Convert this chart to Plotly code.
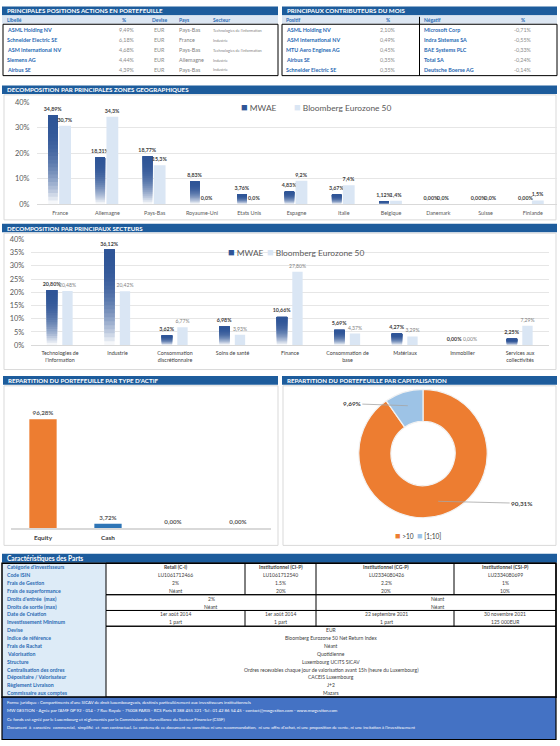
import math
import plotly.graph_objects as go

W, H = 560, 746
FONT = "Lato"


def X(px):
    return px / W


def Y(py):
    return 1 - py / H


def pct(v, d=2):
    return f"{v:.{d}f}".replace(".", ",") + "%"


# ---------------- DATA ----------------
top_names = ["ASML Holding NV", "Schneider Electric SE", "ASM International NV", "Siemens AG", "Airbus SE"]
top_pct = [9.49, 6.18, 4.68, 4.44, 4.39]
top_devise = ["EUR", "EUR", "EUR", "EUR", "EUR"]
top_pays = ["Pays-Bas", "France", "Pays-Bas", "Allemagne", "Pays-Bas"]
top_secteur = ["Technologies de l'information", "Industrie", "Technologies de l'information", "Industrie", "Industrie"]

pos_names = ["ASML Holding NV", "ASM International NV", "MTU Aero Engines AG", "Airbus SE", "Schneider Electric SE"]
pos_pct = [2.10, 0.49, 0.45, 0.35, 0.35]
neg_names = ["Microsoft Corp", "Indra Sistemas SA", "BAE Systems PLC", "Total SA", "Deutsche Boerse AG"]
neg_pct = [-0.71, -0.55, -0.33, -0.24, -0.14]

geo_cats = ["France", "Allemagne", "Pays-Bas", "Royaume-Uni", "Etats Unis", "Espagne", "Italie",
            "Belgique", "Danemark", "Suisse", "Finlande"]
geo_mwae = [34.89, 18.31, 18.77, 8.83, 3.76, 4.83, 3.67, 1.12, 0.00, 0.00, 0.00]
geo_bench = [30.7, 34.3, 15.3, 0.0, 0.0, 9.2, 7.4, 1.4, 0.0, 0.0, 1.5]

sec_cats = ["Technologies de<br>l'information", "Industrie", "Consommation<br>discrétionnaire", "Soins de santé",
            "Finance", "Consommation de<br>base", "Matériaux", "Immobilier", "Services aux<br>collectivités"]
sec_mwae = [20.80, 36.12, 3.62, 6.98, 10.66, 5.69, 4.27, 0.00, 2.25]
sec_bench = [20.48, 20.42, 6.77, 3.93, 27.80, 4.37, 3.29, 0.00, 7.29]

series_names = ["MWAE", "Bloomberg Eurozone 50"]

asset_cats = ["Equity", "Cash", "", ""]
asset_vals = [96.28, 3.72, 0.00, 0.00]

cap_labels = [">10", "[1;10]"]
cap_vals = [90.31, 9.69]

char_labels = ["Catégorie d'investisseurs", "Code ISIN", "Frais de Gestion", "Frais de superformance",
               "Droits d'entrée  (max)", "Droits de sortie (max)", "Date de Création", "Investissement Minimum",
               "Devise", "Indice de référence", "Frais de Rachat", "Valorisation", "Structure",
               "Centralisation des ordres", "Dépositaire / Valorisateur", "Règlement Livraison",
               "Commissaire aux comptes"]
share_classes = ["Retail (C-I)", "Institutionnel (CI-P)", "Institutionnel (CG-P)", "Institutionnel (CSI-P)"]
isin = ["LU1061712466", "LU1061712540", "LU2334080426", "LU2334080699"]
frais_gestion = ["2%", "1.5%", "2.2%", "1%"]
frais_perf = ["Néant", "20%", "20%", "10%"]
droits_entree = ["2%", "Néant"]
droits_sortie = ["Néant", "Néant"]
date_creation = ["1er août 2014", "1er août 2014", "22 septembre 2021", "30 novembre 2021"]
invest_min = ["1 part", "1 part", "1 part", "125 000EUR"]
common_values = ["EUR", "Bloomberg Eurozone 50 Net Return Index", "Néant", "Quotidienne",
                 "Luxembourg UCITS SICAV",
                 "Ordres recevables chaque jour de valorisation avant 15h (heure du Luxembourg)",
                 "CACEIS Luxembourg", "J+2", "Mazars"]

footer_lines = [
    "Forme juridique : Compartiments d'une SICAV de droit luxembourgeois, destinés particulièrement aux investisseurs institutionnels",
    "MW GESTION - Agrée par l'AMF GP 92 - 014 - 7 Rue Royale - 75008 PARIS - RCS Paris B 388 455 321 -Tel : 01 42 86 54 45 - contact@mwgestion.com - www.mwgestion.com",
    "Ce fonds est agréé par le Luxembourg et réglementés par la Commission de Surveillance du Secteur Financier (CSSF)",
    "Document  à  caractère  commercial,  simplifié  et  non contractuel. Le contenu de ce document ne constitue ni une recommandation,  ni une offre d'achat, ni une proposition de vente, ni une incitation à l'investissement",
]

# ---------------- STYLE ----------------
HDR = "#1d5c9c"
DARK = (47, 85, 151)
DARK_HEX = "#2f5597"
LIGHT = "#dae6f4"
GRAY = "#595959"
BLUE_TXT = "#2a6ab3"
ORANGE = "#ed7d31"
CASH = "#2e75b6"
CAP_LIGHT = "#9dc3e6"

shapes = []
annotations = []


def rect(x0, y0, x1, y1, fill=None, line=None, lw=1, layer="below"):
    shapes.append(dict(type="rect", xref="paper", yref="paper", x0=X(x0), x1=X(x1), y0=Y(y1), y1=Y(y0),
                       fillcolor=fill or "rgba(0,0,0,0)",
                       line=dict(color=line or "rgba(0,0,0,0)", width=lw if line else 0), layer=layer))


def vline(x, y0, y1, color="black", lw=1):
    shapes.append(dict(type="line", xref="paper", yref="paper", x0=X(x), x1=X(x), y0=Y(y0), y1=Y(y1),
                       line=dict(color=color, width=lw)))


def txt(x, y, s, size=5, color="#404040", bold=False, xanchor="left"):
    annotations.append(dict(x=X(x), y=Y(y), xref="paper", yref="paper", text=(f"<b>{s}</b>" if bold else s),
                            showarrow=False, xanchor=xanchor, yanchor="middle",
                            font=dict(size=size, color=color, family=FONT)))


def header(x0, x1, y0, y1, title, size=6.2):
    rect(x0, y0, x1, y1, fill=HDR)
    txt(x0 + 3, (y0 + y1) / 2, title, size=size, color="white", bold=True)


fig = go.Figure()

# ---------------- TOP TABLES ----------------
header(2, 278, 2.5, 11.5, "PRINCIPALES POSITIONS ACTIONS EN PORTEFEUILLE")
header(282, 557, 2.5, 11.5, "PRINCIPAUX CONTRIBUTEURS DU MOIS")
rect(2, 12, 278, 20, fill="#dce6f2")
rect(282, 12, 557, 20, fill="#dce6f2")
rect(3, 20.5, 278, 72.5, line="black", lw=1)
rect(282, 20.5, 557, 72.5, line="black", lw=1)
vline(419.5, 13, 72.5)

hy = 16
txt(5, hy, "Libellé", 5, BLUE_TXT, True)
txt(124, hy, "%", 5, BLUE_TXT, True, "center")
txt(159, hy, "Devise", 5, BLUE_TXT, True, "center")
txt(177, hy, "Pays", 5, BLUE_TXT, True)
txt(211, hy, "Secteur", 5, BLUE_TXT, True)
txt(284, hy, "Positif", 5, BLUE_TXT, True)
txt(388, hy, "%", 5, BLUE_TXT, True, "center")
txt(422, hy, "Négatif", 5, BLUE_TXT, True)
txt(523, hy, "%", 5, BLUE_TXT, True, "center")

for i in range(5):
    yy = 26.7 + 10 * i
    txt(5, yy, top_names[i], 5.4, BLUE_TXT, True)
    txt(127, yy, pct(top_pct[i]), 5.4, "#8c8c8c", False, "center")
    txt(159, yy, top_devise[i], 5.4, "#8c8c8c", False, "center")
    txt(177, yy, top_pays[i], 5.4, "#7f7f7f")
    txt(211, yy, top_secteur[i], 3.8, "#7f7f7f")
    txt(284, yy, pos_names[i], 5.4, BLUE_TXT, True)
    txt(388, yy, pct(pos_pct[i]), 5.4, "#8c8c8c", False, "center")
    txt(422, yy, neg_names[i], 5.4, BLUE_TXT, True)
    txt(523, yy, pct(neg_pct[i]), 5.4, "#8c8c8c", False, "center")

# ---------------- SECTION FRAMES ----------------
header(2, 557, 82.5, 91, "DECOMPOSITION PAR PRINCIPALES ZONES GEOGRAPHIQUES")
rect(4, 92, 556, 218.5, line="#d9d9d9", lw=1)
header(2, 557, 222.5, 231, "DECOMPOSITION PAR PRINCIPAUX SECTEURS")
rect(4, 232, 556, 370, line="#d9d9d9", lw=1)
header(3, 278, 376.5, 385.5, "REPARTITION DU PORTEFEUILLE PAR TYPE D'ACTIF")
rect(4, 386.5, 278, 548, line="#d9d9d9", lw=1)
header(282, 557, 376.5, 385.5, "REPARTITION DU PORTEFEUILLE PAR CAPITALISATION")
rect(283, 386.5, 556, 548, line="#d9d9d9", lw=1)


# ---------------- GRADIENT BARS ----------------
def mix(c, f):
    r, g, b = (int(round(ch + (255 - ch) * f)) for ch in c)
    return f"rgb({r},{g},{b})"


def gradient_bars(cats, vals, xa, ya, offset, width, tsize, N=24):
    # each layer runs from its start height up to the bar's value, darker layers drawn on top
    for k in range(N):
        h = (k + 0.5) / N
        f = (1 - h) ** 2.4
        top = k == N - 1
        fig.add_trace(go.Bar(
            x=cats, y=[v * (N - k) / N for v in vals], base=[v * k / N for v in vals],
            offset=offset, width=width, xaxis=xa, yaxis=ya,
            marker=dict(color=mix(DARK, f), line=dict(width=0)),
            name=series_names[0], showlegend=False, hoverinfo="skip",
            text=[pct(v) for v in vals] if top else None,
            textposition="outside" if top else "none",
            textfont=dict(size=tsize, color="#404040", family=FONT, weight="bold"),
            constraintext="none", cliponaxis=False,
        ))


def legend_entry(name, color, legend_id, xa, ya, size=11):
    # legend-only entry: the coloured square is part of the label text
    fig.add_trace(go.Scatter(
        x=[None], y=[None], mode="markers", xaxis=xa, yaxis=ya,
        marker=dict(color="rgba(0,0,0,0)", size=1),
        name=f'<span style="color:{color};font-size:{size}px">■</span> {name}',
        legend=legend_id, showlegend=True, hoverinfo="skip"))


# Geo chart
gradient_bars(geo_cats, geo_mwae, "x", "y", -0.25, 0.2, 5.3)
fig.add_trace(go.Bar(
    x=geo_cats, y=geo_bench, offset=-0.02, width=0.25, xaxis="x", yaxis="y",
    marker=dict(color=LIGHT, line=dict(width=0)), name=series_names[1], showlegend=False,
    text=[pct(v, 1) for v in geo_bench], textposition="outside", constraintext="none", cliponaxis=False,
    textfont=dict(size=5.3, color="#404040", family=FONT, weight="bold"), hoverinfo="skip"))
legend_entry(series_names[0], DARK_HEX, "legend", "x", "y")
legend_entry(series_names[1], LIGHT, "legend4", "x", "y")

# Sector chart
gradient_bars(sec_cats, sec_mwae, "x2", "y2", -0.23, 0.18, 5.3)
fig.add_trace(go.Bar(
    x=sec_cats, y=sec_bench, offset=0.04, width=0.18, xaxis="x2", yaxis="y2",
    marker=dict(color=LIGHT, line=dict(width=0)), name=series_names[1], showlegend=False,
    text=[pct(v) for v in sec_bench], textposition="outside", constraintext="none", cliponaxis=False,
    textfont=dict(size=5.1, color="#7f7f7f", family=FONT), hoverinfo="skip"))
legend_entry(series_names[0], DARK_HEX, "legend2", "x2", "y2")
legend_entry(series_names[1], LIGHT, "legend5", "x2", "y2")

# Asset type chart
fig.add_trace(go.Bar(
    x=list(range(len(asset_vals))), y=asset_vals, width=0.42, xaxis="x3", yaxis="y3",
    marker=dict(color=[ORANGE, CASH, CASH, CASH], line=dict(width=0)),
    text=[pct(v) for v in asset_vals], textposition="outside", constraintext="none", cliponaxis=False,
    textfont=dict(size=6.2, color="#595959", family=FONT, weight="bold"), showlegend=False, hoverinfo="skip"))

# Capitalisation donut
CX, CY, R_OUT = 423, 455, 65
fig.add_trace(go.Pie(
    labels=cap_labels, values=cap_vals, hole=0.5, sort=False, direction="clockwise", rotation=0,
    marker=dict(colors=[ORANGE, CAP_LIGHT], line=dict(color="#f2f2f2", width=1.2)),
    textinfo="none", showlegend=False, hoverinfo="skip",
    domain=dict(x=[X(CX - R_OUT), X(CX + R_OUT)], y=[Y(CY + R_OUT), Y(CY - R_OUT)])))
legend_entry(cap_labels[0], ORANGE, "legend3", "x3", "y3", size=9)
legend_entry(cap_labels[1], CAP_LIGHT, "legend6", "x3", "y3", size=9)

total = sum(cap_vals)
start = 0.0
label_offsets = [(84, 2), (-56, -2)]
for v, (ax, ay) in zip(cap_vals, label_offsets):
    mid = start + 360 * v / total / 2
    start += 360 * v / total
    r = R_OUT * 0.78
    px = CX + r * math.sin(math.radians(mid))
    py = CY - r * math.cos(math.radians(mid))
    annotations.append(dict(x=X(px), y=Y(py), xref="paper", yref="paper", text=f"<b>{pct(v)}</b>",
                            showarrow=True, arrowhead=0, arrowwidth=0.8, arrowcolor="#a6a6a6",
                            ax=ax, ay=ay, font=dict(size=6.4, color="#404040", family=FONT)))

# ---------------- BOTTOM TABLE ----------------
header(2, 557, 556.5, 565.5, "Caractéristiques des Parts", size=6.6)
ROW0, PITCH = 566, 7.98
rect(2, ROW0, 106, ROW0 + PITCH * 17, fill="#ddebf7")
cols4 = [175.5, 280.5, 386, 505]
cols2 = [211, 438]
blocks = [(0, 4), (4, 6), (6, 8), (8, 17)]
for b0, b1 in blocks:
    rect(106, ROW0 + PITCH * b0, 556, ROW0 + PITCH * b1, line="black", lw=1, layer="above")
for xv in (245, 316, 454):
    vline(xv, ROW0, ROW0 + PITCH * 4)
    vline(xv, ROW0 + PITCH * 6, ROW0 + PITCH * 8)
vline(316, ROW0 + PITCH * 4, ROW0 + PITCH * 6)
rect(2, ROW0, 556, ROW0 + PITCH * 17, line="black", lw=1.5, layer="above")

four_rows = {0: share_classes, 1: isin, 2: frais_gestion, 3: frais_perf, 6: date_creation, 7: invest_min}
two_rows = {4: droits_entree, 5: droits_sortie}
for i, lab in enumerate(char_labels):
    yy = ROW0 + PITCH * (i + 0.5)
    txt(5, yy, lab, 5.2, BLUE_TXT, True)
    if i in four_rows:
        for cx, s in zip(cols4, four_rows[i]):
            txt(cx, yy, s, 5.0, "#404040", i == 0, "center")
    elif i in two_rows:
        for cx, s in zip(cols2, two_rows[i]):
            txt(cx, yy, s, 5.0, "#404040", False, "center")
    else:
        txt(331, yy, common_values[i - 8], 5.0, "#404040", False, "center")

# Footer
FY0 = ROW0 + PITCH * 17
rect(2, FY0, 556, 744.5, fill="#4472c4", line="black", lw=1.2, layer="above")
for k, line in enumerate(footer_lines):
    txt(5, 706.8 + 8.5 * k, line, 4.3, "white")


# ---------------- LAYOUT ----------------
def leg(x_glyph, y_mid, size):
    return dict(orientation="h", x=X(x_glyph - 40), y=Y(y_mid), xanchor="left", yanchor="middle",
                font=dict(size=size, color=GRAY, family=FONT), bgcolor="rgba(0,0,0,0)",
                itemwidth=30, borderwidth=0)


axis_font = dict(size=7.4, color=GRAY, family=FONT)
fig.update_layout(
    width=W, height=H, margin=dict(l=0, r=0, t=0, b=0),
    paper_bgcolor="white", plot_bgcolor="rgba(0,0,0,0)",
    barmode="overlay", font=dict(family=FONT, color=GRAY),
    shapes=shapes, annotations=annotations,
    xaxis=dict(domain=[X(36.5), X(556.5)], anchor="y", type="category", showgrid=False,
               showline=True, linecolor="#d9d9d9", linewidth=1, ticks="", ticklabelstandoff=3,
               tickfont=dict(size=5.4, color=GRAY, family=FONT), fixedrange=True),
    yaxis=dict(domain=[Y(202.7), Y(99.3)], anchor="x", range=[0, 40], dtick=10, ticksuffix="%",
               showgrid=True, gridcolor="#e6e6e6", zeroline=False, tickfont=axis_font,
               ticklabelstandoff=6),
    xaxis2=dict(domain=[X(31.25), X(548.75)], anchor="y2", type="category", showgrid=False,
                showline=True, linecolor="#d9d9d9", linewidth=1, ticks="", ticklabelstandoff=3,
                tickfont=dict(size=5.3, color="#404040", family=FONT)),
    yaxis2=dict(domain=[Y(345.3), Y(238.3)], anchor="x2", range=[0, 40], dtick=5, ticksuffix="%",
                showgrid=True, gridcolor="#e6e6e6", zeroline=False, tickfont=axis_font,
                ticklabelstandoff=6),
    xaxis3=dict(domain=[X(10.5), X(270.5)], anchor="y3", range=[-0.5, 3.5], showgrid=False,
                tickvals=list(range(len(asset_cats))), ticktext=[f"<b>{c}</b>" if c else "" for c in asset_cats],
                showline=True, linecolor="#d9d9d9", linewidth=1.5, ticks="", ticklabelstandoff=3,
                tickfont=dict(size=6.4, color="#404040", family=FONT), zeroline=False),
    yaxis3=dict(domain=[Y(530.3), Y(416)], anchor="x3", range=[0, 100], visible=False),
    legend=leg(241, 105, 8.4),
    legend4=leg(294, 105, 8.4),
    legend2=leg(228, 251.5, 8.4),
    legend5=leg(267, 251.5, 8.4),
    legend3=leg(395, 539.3, 6.6),
    legend6=leg(417, 539.3, 6.6),
)
fig.update_layout(legend3_font_color="#404040", legend6_font_color="#404040")

fig.write_html("out.html")
